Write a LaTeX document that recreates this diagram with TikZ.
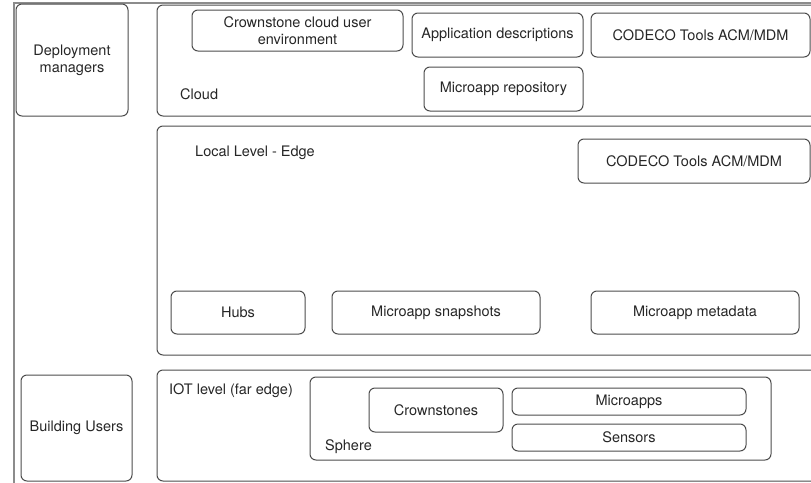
\documentclass[tikz,border=0pt]{standalone}
\usepackage{fontspec}
\setmainfont{TeX Gyre Heros}
\begin{document}
\begin{tikzpicture}[x=1pt,y=-1pt,
    box/.style={draw=black!70,line width=1pt,rounded corners=6pt,inner sep=0pt,
      align=center,text=black!85,font=\fontsize{14.5}{17}\selectfont},
    lbl/.style={anchor=west,inner sep=0pt,text=black!85,font=\fontsize{14.5}{17}\selectfont}]
  \useasboundingbox (0,0) rectangle (811,482);
  \clip (0,0) rectangle (811,482);
  \draw[black!45,line width=1.4pt] (14,490) -- (14,3) -- (820,3);
  \node[box,minimum width=112pt,minimum height=112pt] (deploy) at (72,60) {Deployment\\managers};
  \node[box,minimum width=111pt,minimum height=106pt] (users) at (76.5,428) {Building Users};
  \node[box,minimum width=683pt,minimum height=111pt] (cloud) at (498.5,60.5) {};
  \node[box,minimum width=683pt,minimum height=229pt] (edge) at (498.5,240.5) {};
  \node[box,minimum width=683pt,minimum height=111pt] (iot) at (498.5,425.5) {};
  \node[lbl] (cloudlbl) at (180,94) {Cloud};
  \node[lbl] (edgelbl) at (195,153) {Local Level - Edge};
  \node[lbl] (iotlbl) at (169,391) {IOT level (far edge)};
  \begin{scope}
    \node[box,minimum width=211pt,minimum height=41pt] (crowncloud) at (297.5,30.5) {Crownstone cloud user\\environment};
    \node[box,minimum width=171pt,minimum height=44pt] (appdesc) at (497.5,35) {Application descriptions};
    \node[box,minimum width=219pt,minimum height=44pt] (codecocloud) at (700.5,35) {CODECO Tools ACM/MDM};
    \node[box,minimum width=159pt,minimum height=44pt] (repo) at (503.5,89) {Microapp repository};
  \end{scope}
  \begin{scope}
    \node[box,minimum width=232pt,minimum height=44pt] (codecoedge) at (694,161) {CODECO Tools ACM/MDM};
    \node[box,minimum width=134pt,minimum height=43pt] (hubs) at (238,312.5) {Hubs};
    \node[box,minimum width=208pt,minimum height=43pt] (snapshots) at (436,312.5) {Microapp snapshots};
    \node[box,minimum width=208pt,minimum height=43pt] (metadata) at (695,312.5) {Microapp metadata};
  \end{scope}
  \begin{scope}
    \node[box,minimum width=461pt,minimum height=83pt] (sphere) at (540.5,418.5) {};
    \node[lbl] (spherelbl) at (325,447) {Sphere};
    \node[box,minimum width=134pt,minimum height=44pt] (crownstones) at (436,410) {Crownstones};
    \node[box,minimum width=234pt,minimum height=27pt] (microapps) at (629,401.5) {Microapps};
    \node[box,minimum width=234pt,minimum height=27pt] (sensors) at (629,437.5) {Sensors};
  \end{scope}
\end{tikzpicture}
\end{document}
